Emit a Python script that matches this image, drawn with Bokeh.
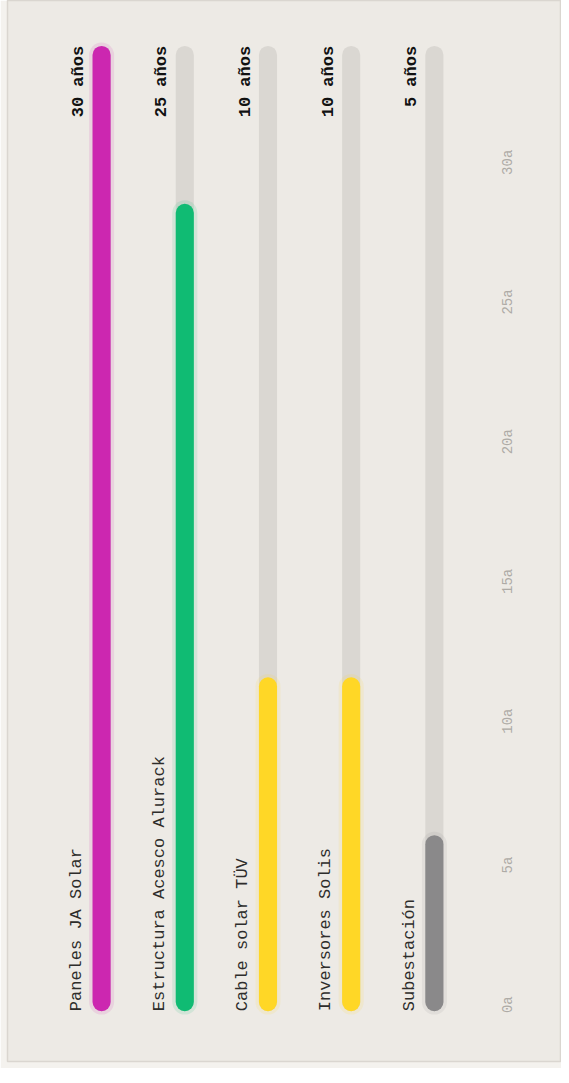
from math import pi
from bokeh.plotting import figure
from bokeh.models import ColumnDataSource, Range1d
from bokeh.core.properties import value
from bokeh.embed import file_html
from bokeh.resources import INLINE

# ---- data ----
components = ["Paneles JA Solar", "Estructura Acesco Alurack", "Cable solar TÜV",
              "Inversores Solis", "Subestación"]
years = [30, 25, 10, 10, 5]
value_labels = ["30 años", "25 años", "10 años", "10 años", "5 años"]
colors = ["#cc27b0", "#10bb73", "#ffd726", "#ffd726", "#8a898a"]
tick_values = [0, 5, 10, 15, 20, 25, 30]
tick_labels = ["0a", "5a", "10a", "15a", "20a", "25a", "30a"]
track_max = 30

PANEL = "#edeae5"
OUTER = "#f4f2ee"
BORDER = "#dad6d0"
TRACK = "#dad7d2"

W, H = 561, 1068
p = figure(width=W, height=H, output_backend="svg", toolbar_location=None,
           x_axis_location=None, y_axis_location=None,
           x_range=Range1d(-1.131, 5.528), y_range=Range1d(-1.882, 31.726),
           min_border_left=7, min_border_bottom=7, min_border_top=0, min_border_right=0,
           background_fill_color=PANEL, border_fill_color=OUTER,
           outline_line_color=BORDER, outline_line_width=1.5)
p.grid.visible = False
p.extra_y_ranges = {"ticks": Range1d(-1.732, 36.242)}

idx = list(range(len(components)))
src = ColumnDataSource(dict(
    x=idx,
    y0=[0] * len(idx),
    ytrack=[track_max] * len(idx),
    y=years,
    color=colors,
    name=components,
    vlabel=value_labels,
    lx=[i - 0.303 for i in idx],
    vx=[i - 0.275 for i in idx],
    ly=[-0.289] * len(idx),
    vy=[track_max + 0.288] * len(idx),
))

# track
p.segment(x0="x", y0="y0", x1="x", y1="ytrack", source=src, line_color=TRACK,
          line_width=18.1, line_cap="round")
# glow
p.segment(x0="x", y0="y0", x1="x", y1="y", source=src, line_color="color",
          line_width=25, line_alpha=0.12, line_cap="round")
# bar
p.segment(x0="x", y0="y0", x1="x", y1="y", source=src, line_color="color",
          line_width=18.1, line_cap="round")

# category labels
p.text(x="lx", y="ly", text="name", source=src, angle=pi / 2,
       text_align="left", text_baseline="alphabetic",
       text_font=value("Liberation Mono"), text_font_size="17px",
       text_color="#2e2d2b")
# value labels
p.text(x="vx", y="vy", text="vlabel", source=src, angle=pi / 2,
       text_align="right", text_baseline="alphabetic",
       text_font=value("Liberation Mono"), text_font_size="17px",
       text_font_style="bold", text_color="#111111")

# tick labels
tsrc = ColumnDataSource(dict(x=[4.888] * len(tick_values), y=tick_values, t=tick_labels))
p.text(x="x", y="y", text="t", source=tsrc, y_range_name="ticks", angle=pi / 2,
       text_align="left", text_baseline="alphabetic",
       text_font=value("Liberation Mono"), text_font_size="14px",
       text_color="#aeaba6")

open("out.html", "w").write(file_html(p, INLINE))
